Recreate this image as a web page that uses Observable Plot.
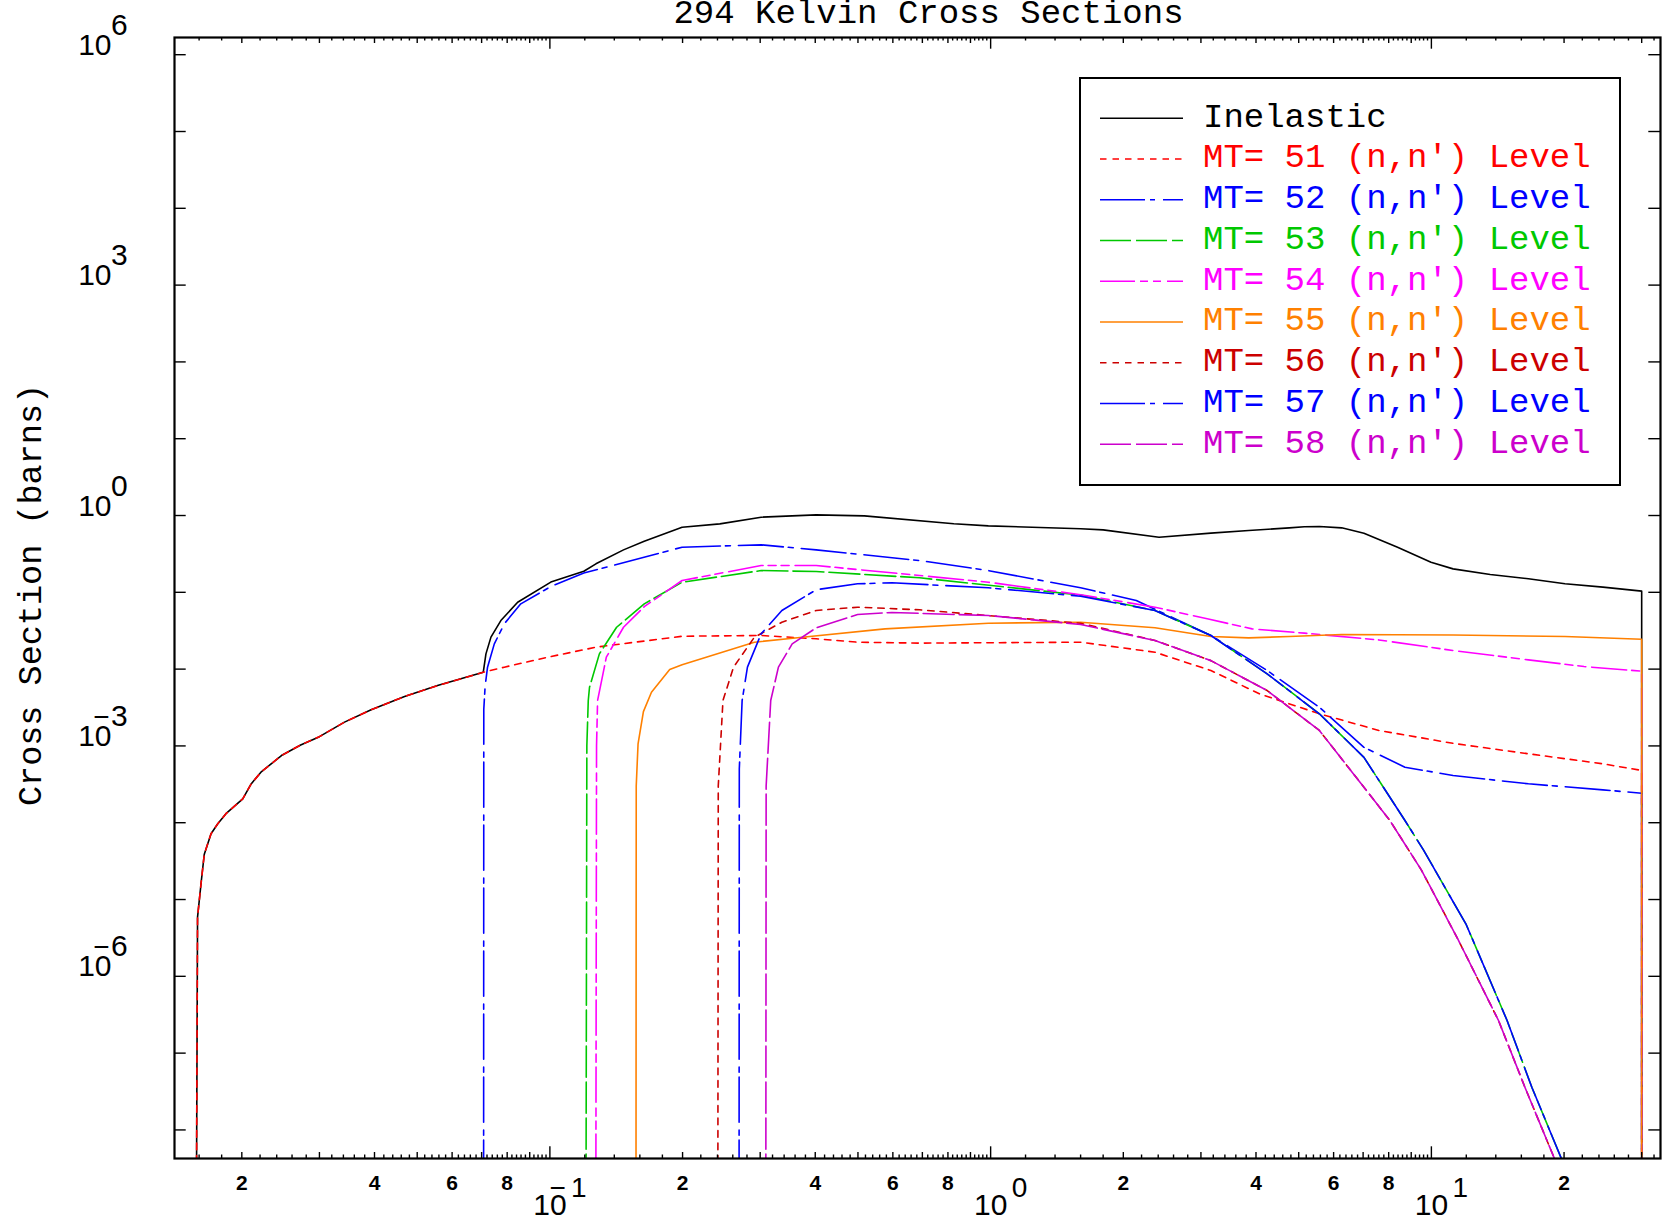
<!DOCTYPE html>
<html>
<head>
<meta charset="utf-8">
<script src="https://cdn.jsdelivr.net/npm/d3@7"></script>
<script src="https://cdn.jsdelivr.net/npm/@observablehq/plot@0.6"></script>
<style>
  html, body { margin: 0; padding: 0; background: #fff; overflow: hidden; }
  #wrap { position: relative; width: 1665px; height: 1220px; }
  #wrap > svg { position: absolute; left: 0; top: 0; }
</style>
</head>
<body>
<div id="wrap"></div>
<script>
// ---------------- DATA (energy in MeV, cross section in barns) ----------------
const inelastic = [
  [0.01570, 1e-12], [0.01587, 5.9e-6], [0.01619, 1.77e-5], [0.01644, 3.9e-5], [0.01703, 7.2e-5],
  [0.01764, 9.7e-5], [0.01841, 1.31e-4], [0.0201, 2.05e-4], [0.0210, 3.2e-4], [0.0221, 4.55e-4],
  [0.0246, 7.5e-4], [0.0272, 1.03e-3], [0.0300, 1.32e-3], [0.0342, 2.04e-3], [0.0393, 2.95e-3],
  [0.0468, 4.40e-3], [0.0556, 6.1e-3], [0.0706, 9.1e-3], [0.0716, 0.0158], [0.0735, 0.0261],
  [0.0774, 0.0429], [0.0845, 0.0743], [0.1005, 0.136], [0.1194, 0.188], [0.1272, 0.235],
  [0.1469, 0.357], [0.1637, 0.463], [0.1995, 0.704], [0.243, 0.778], [0.3015, 0.951],
  [0.402, 1.02], [0.517, 0.99], [0.825, 0.78], [0.988, 0.734], [1.60, 0.671], [1.80, 0.651],
  [2.41, 0.522], [3.16, 0.589], [3.85, 0.638], [4.76, 0.691], [5.15, 0.715], [5.57, 0.719],
  [6.26, 0.691], [7.03, 0.589], [8.38, 0.387], [9.98, 0.247], [11.2, 0.202], [13.6, 0.171],
  [16.6, 0.150], [20.1, 0.129], [24.5, 0.117], [30.0, 0.1035], [30.0, 1e-12]
];
const mt51 = [
  [0.01570, 1e-12], [0.01587, 5.9e-6], [0.01619, 1.77e-5], [0.01644, 3.9e-5], [0.01703, 7.2e-5],
  [0.01764, 9.7e-5], [0.01841, 1.31e-4], [0.0201, 2.05e-4], [0.0210, 3.2e-4], [0.0221, 4.55e-4],
  [0.0246, 7.5e-4], [0.0272, 1.03e-3], [0.0300, 1.32e-3], [0.0342, 2.04e-3], [0.0393, 2.95e-3],
  [0.0468, 4.40e-3], [0.0556, 6.1e-3], [0.0706, 9.1e-3], [0.0788, 0.0106], [0.0989, 0.0143],
  [0.1272, 0.0193], [0.1995, 0.0268], [0.3015, 0.0274], [0.402, 0.0248], [0.499, 0.0224],
  [0.690, 0.0218], [1.60, 0.0224], [2.36, 0.0166], [3.16, 0.0096], [4.07, 0.00477],
  [5.57, 0.00262], [7.60, 0.00159], [11.2, 0.00108], [16.6, 7.9e-4], [24.5, 5.85e-4],
  [30.0, 4.79e-4], [30.0, 1e-12]
];
const mt52 = [
  [0.0707, 1e-12], [0.0708, 3e-3], [0.0713, 0.006], [0.0722, 0.0106], [0.0748, 0.0213],
  [0.0788, 0.0389], [0.0859, 0.0708], [0.1005, 0.119], [0.1194, 0.178], [0.1995, 0.387],
  [0.3015, 0.415], [0.402, 0.357], [0.690, 0.259], [0.988, 0.192], [1.60, 0.1145],
  [2.14, 0.0782], [3.16, 0.0274], [4.24, 0.0096], [5.57, 0.00319], [7.03, 9.6e-4],
  [8.71, 5.28e-4], [11.2, 4.12e-4], [16.6, 3.21e-4], [24.5, 2.68e-4], [30.0, 2.42e-4], [30.0, 1e-12]
];
const mt53 = [
  [0.1205, 1e-12], [0.1213, 1e-3], [0.1222, 0.0039], [0.1230, 0.0058], [0.1295, 0.0158],
  [0.1417, 0.0351], [0.1637, 0.0708], [0.1995, 0.1354], [0.3015, 0.192], [0.402, 0.1866],
  [0.690, 0.1545], [1.60, 0.092], [2.36, 0.058], [3.16, 0.0274], [4.24, 0.00868],
  [5.57, 0.00262], [7.03, 7.1e-4], [8.71, 1.07e-4], [9.6, 4.4e-5], [12.0, 4.7e-6],
  [14.85, 2.66e-7], [16.9, 3.6e-8], [19.7, 4.3e-9], [21.0, 1e-10]
];
const mt54 = [
  [0.1269, 1e-12], [0.1276, 1e-3], [0.1283, 0.0039], [0.1343, 0.0143], [0.1469, 0.0351],
  [0.1637, 0.065], [0.1995, 0.1425], [0.3015, 0.2234], [0.402, 0.2234], [0.690, 0.1655],
  [0.988, 0.1354], [1.60, 0.093], [2.36, 0.064], [3.10, 0.0452], [3.92, 0.0334], [5.15, 0.0294],
  [7.60, 0.0240], [11.2, 0.01746], [16.6, 0.0132], [22.2, 0.0108], [30.0, 0.0094], [30.0, 1e-12]
];
const mt55 = [
  [0.1567, 1e-12], [0.1570, 3e-4], [0.1585, 1.06e-3], [0.163, 2.8e-3], [0.170, 5e-3],
  [0.187, 9.9e-3], [0.1995, 0.0114], [0.291, 0.0224], [0.374, 0.026], [0.576, 0.0334],
  [0.988, 0.0396], [1.60, 0.0408], [2.36, 0.0345], [3.16, 0.0266], [3.85, 0.0255],
  [4.76, 0.0266], [6.26, 0.0282], [11.2, 0.0278], [20.1, 0.0266], [30.0, 0.0245], [30.0, 1e-12]
];
const mt56 = [
  [0.2402, 1e-12], [0.2410, 3e-4], [0.247, 0.0039], [0.261, 0.0106], [0.291, 0.026],
  [0.336, 0.0408], [0.402, 0.058], [0.499, 0.064], [0.690, 0.0592], [1.60, 0.0395],
  [2.36, 0.0236], [3.16, 0.0129], [4.24, 0.00526], [5.57, 0.00159], [7.03, 2.9e-4],
  [8.05, 1.07e-4], [9.5, 2.4e-5], [11.5, 3e-6], [14.2, 2.66e-7], [16.3, 3.6e-8],
  [19.0, 4.3e-9], [20.5, 1e-10]
];
const mt57 = [
  [0.2685, 1e-12], [0.2690, 5e-4], [0.273, 0.0039], [0.2807, 0.0106], [0.3015, 0.0288],
  [0.336, 0.058], [0.402, 0.108], [0.499, 0.129], [0.597, 0.133], [0.988, 0.1145],
  [1.60, 0.089], [2.36, 0.058], [3.16, 0.0274], [4.24, 0.00868], [5.57, 0.00262],
  [7.03, 7.1e-4], [8.71, 1.07e-4], [9.6, 4.4e-5], [12.0, 4.7e-6], [14.85, 2.66e-7],
  [16.9, 3.6e-8], [19.7, 4.3e-9], [21.0, 1e-10]
];
const mt58 = [
  [0.3087, 1e-12], [0.3095, 3e-4], [0.317, 0.0039], [0.330, 0.0106], [0.3546, 0.0213],
  [0.402, 0.0345], [0.499, 0.0514], [0.597, 0.0546], [0.988, 0.0499], [1.60, 0.0381],
  [2.36, 0.0236], [3.16, 0.0129], [4.24, 0.00526], [5.57, 0.00159], [7.03, 2.9e-4],
  [8.05, 1.07e-4], [9.5, 2.4e-5], [11.5, 3e-6], [14.2, 2.66e-7], [16.3, 3.6e-8],
  [19.0, 4.3e-9], [20.5, 1e-10]
];

const seriesData   = [inelastic, mt51, mt52, mt53, mt54, mt55, mt56, mt57, mt58];
const seriesNames  = ["Inelastic", "MT= 51 (n,n') Level", "MT= 52 (n,n') Level", "MT= 53 (n,n') Level",
                      "MT= 54 (n,n') Level", "MT= 55 (n,n') Level", "MT= 56 (n,n') Level",
                      "MT= 57 (n,n') Level", "MT= 58 (n,n') Level"];
const seriesColors = ["#000000", "#ff0000", "#0000ff", "#00c800", "#ff00ff", "#ff8000", "#cc0000", "#0000ff", "#cc00cc"];
const seriesDashes = [null, "6.5,6", "45,5,5,8", "31,5", "35,5,8,5,8,6", null, "6.5,6", "45,5,5,8", "31,5"];

const titleText  = "294 Kelvin Cross Sections";
const yLabelText = "Cross Section (barns)";
const xMinorLabelMantissas = [2, 4, 6, 8];
const xMajorExponents = [-1, 0, 1];
const yLabelExponents = [6, 3, 0, -3, -6];

// ---------------- LAYOUT ----------------
const W = 1665, H = 1220;
const mL = 174, mR = 5, mT = 37, mB = 62;
const frameW = W - mL - mR, frameH = H - mT - mB;
const xDomain = [0.01407, 33.1];
const yDomain = [Math.pow(10, -8.372), Math.pow(10, 6.224)];
const inDom = v => v >= xDomain[0] && v <= xDomain[1];

// axis ticks
const decadesX = [-2, -1, 0, 1];
const xMajor = decadesX.map(k => Math.pow(10, k)).filter(inDom);
const xMid = [], xSmall = [];
for (const k of decadesX) {
  for (let i = 6; i < 50; i++) {
    const v = (i / 5) * Math.pow(10, k);
    if (!inDom(v)) continue;
    if (i % 5 === 0) xMid.push(v); else xSmall.push(v);
  }
}
const yMajor = d3.range(-8, 7).map(k => Math.pow(10, k));
const xMinorLabels = [];
for (const k of decadesX) for (const m of xMinorLabelMantissas) {
  const v = m * Math.pow(10, k);
  if (inDom(v)) xMinorLabels.push({v, t: String(m)});
}

const mono = "Liberation Mono, DejaVu Sans Mono, monospace";
const sans = "Liberation Sans, Arial, sans-serif";
const tk = {stroke: "black", strokeWidth: 1.4};

const marks = [];
seriesData.forEach((arr, i) => {
  marks.push(Plot.line(arr, {
    x: d => d[0], y: d => d[1], stroke: seriesColors[i], strokeWidth: 1.6,
    strokeDasharray: seriesDashes[i] || undefined, clip: true, curve: "linear"
  }));
});
marks.push(
  Plot.tickX(xMajor, {...tk, insetTop: frameH - 11.7}),
  Plot.tickX(xMajor, {...tk, insetBottom: frameH - 11.7}),
  Plot.tickX(xMid, {...tk, insetTop: frameH - 6}),
  Plot.tickX(xMid, {...tk, insetBottom: frameH - 6}),
  Plot.tickX(xSmall, {...tk, insetTop: frameH - 3.5}),
  Plot.tickX(xSmall, {...tk, insetBottom: frameH - 3.5}),
  Plot.tickY(yMajor, {...tk, insetRight: frameW - 11.7}),
  Plot.tickY(yMajor, {...tk, insetLeft: frameW - 11.7}),
  Plot.frame({stroke: "black", strokeWidth: 2.2}),
  // x tick labels
  Plot.text(xMinorLabels, {x: d => d.v, text: d => d.t, frameAnchor: "bottom", dy: 31, lineAnchor: "bottom",
    fontSize: 21, fontWeight: "bold", fontFamily: sans, fill: "black"}),
  Plot.text(xMajorExponents, {x: e => Math.pow(10, e), text: () => "10", frameAnchor: "bottom", dy: 56,
    lineAnchor: "bottom", fontSize: 30, fontFamily: sans, fill: "black"}),
  Plot.text(xMajorExponents, {x: e => Math.pow(10, e), text: e => String(Math.abs(e)), frameAnchor: "bottom",
    textAnchor: "start", dx: 21, dy: 38, lineAnchor: "bottom", fontSize: 28, fontFamily: sans, fill: "black"}),
  Plot.text(xMajorExponents.filter(e => e < 0), {x: e => Math.pow(10, e), text: () => "\u2212", frameAnchor: "bottom",
    textAnchor: "end", dx: 16, dy: 38, lineAnchor: "bottom", fontSize: 28, fontFamily: sans, fill: "black"}),
  // y tick labels
  Plot.text(yLabelExponents, {y: e => Math.pow(10, e), text: () => "10", frameAnchor: "left", textAnchor: "end",
    dx: -63, lineAnchor: "bottom", fontSize: 30, fontFamily: sans, fill: "black"}),
  Plot.text(yLabelExponents, {y: e => Math.pow(10, e), text: e => String(Math.abs(e)), frameAnchor: "left",
    textAnchor: "start", dx: -63.5, dy: -20, lineAnchor: "bottom", fontSize: 30, fontFamily: sans, fill: "black"}),
  Plot.text(yLabelExponents.filter(e => e < 0), {y: e => Math.pow(10, e), text: () => "\u2212", frameAnchor: "left",
    textAnchor: "end", dx: -65, dy: -20, lineAnchor: "bottom", fontSize: 28, fontFamily: sans, fill: "black"}),
  // title and y label
  Plot.text([titleText], {text: d => d, frameAnchor: "top", textAnchor: "middle", dx: 11, dy: -14.3, lineAnchor: "bottom",
    fontSize: 34, fontFamily: mono, fill: "black"}),
  Plot.text([yLabelText], {text: d => d, frameAnchor: "left", textAnchor: "middle", rotate: -90, dx: -134, dy: -3,
    lineAnchor: "bottom", fontSize: 33.5, fontFamily: mono, fill: "black"})
);

const chart = Plot.plot({
  width: W, height: H,
  marginLeft: mL, marginRight: mR, marginTop: mT, marginBottom: mB,
  x: {type: "log", domain: xDomain, axis: null},
  y: {type: "log", domain: yDomain, axis: null},
  style: {background: "white", fontFamily: sans, overflow: "visible"},
  marks
});
document.getElementById("wrap").appendChild(chart);

// ---------------- LEGEND (overlay inside the frame) ----------------
const ov = d3.select("#wrap").append("svg")
  .attr("width", W).attr("height", H).style("pointer-events", "none");
const lg = {x: 1080, y: 78, w: 540, h: 407, row0: 118.3, step: 40.75, l1: 1100, l2: 1183, tx: 1203};
ov.append("rect").attr("x", lg.x).attr("y", lg.y).attr("width", lg.w).attr("height", lg.h)
  .attr("fill", "white").attr("stroke", "black").attr("stroke-width", 2);
seriesNames.forEach((name, i) => {
  const y = lg.row0 + i * lg.step;
  ov.append("line").attr("x1", lg.l1).attr("x2", lg.l2).attr("y1", y).attr("y2", y)
    .attr("stroke", seriesColors[i]).attr("stroke-width", 1.6)
    .attr("stroke-dasharray", seriesDashes[i] || null);
  ov.append("text").attr("x", lg.tx).attr("y", y + 8.4).attr("fill", seriesColors[i])
    .attr("font-family", mono).attr("font-size", 34)
    .style("white-space", "pre").text(name);
});
</script>
</body>
</html>
